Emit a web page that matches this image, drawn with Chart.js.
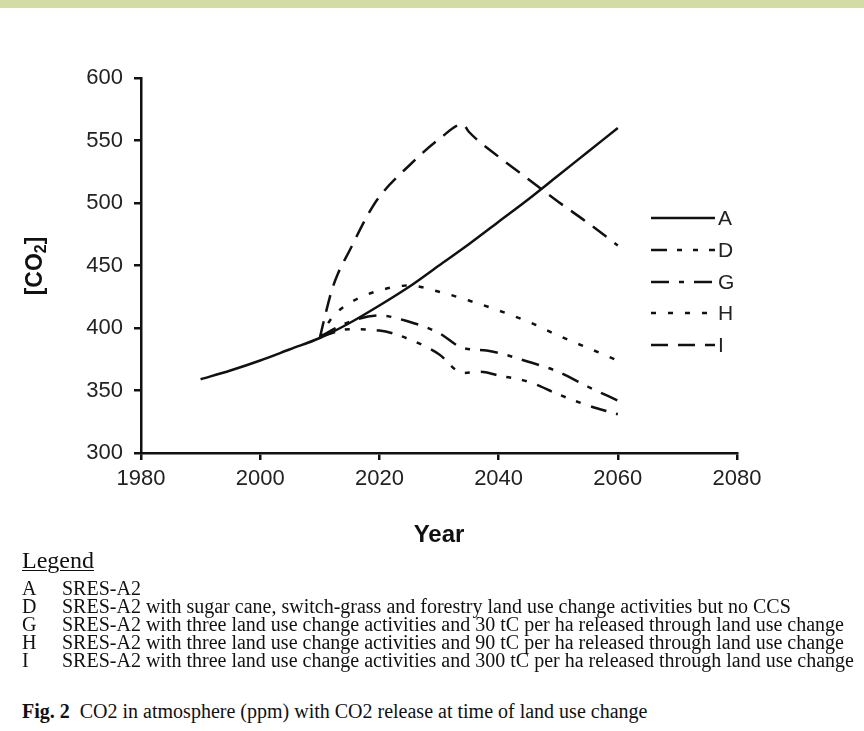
<!DOCTYPE html>
<html>
<head>
<meta charset="utf-8">
<script src="https://cdn.jsdelivr.net/npm/chart.js@4.4.1/dist/chart.umd.min.js"></script>
<style>
    body { margin: 0; width: 864px; height: 731px; background: #fff; position: relative; overflow: hidden; }
    #bandeau { position: absolute; left: 0; top: 0; width: 864px; height: 8px; background: #d3dca5; }
    #zoneGraphique { position: absolute; left: 0; top: 0; width: 864px; height: 560px; }
    .serif { font-family: "Liberation Serif", "Times New Roman", serif; color: #111; position: absolute; white-space: nowrap; }
    #titreLegende { left: 22px; top: 547px; font-size: 24px; text-decoration: underline; text-decoration-thickness: 1px; text-underline-offset: 2px; }
    .ligne { font-size: 20px; left: 22px; line-height: 20px; }
    .ligne span { position: absolute; left: 40px; }
    #caption { left: 22px; top: 700px; font-size: 20px; }
</style>
</head>
<body>
<div id="bandeau"></div>
<div id="zoneGraphique"><canvas id="co2Chart" width="864" height="560"></canvas></div>

<div id="titreLegende" class="serif">Legend</div>
<div class="serif ligne" style="top:578px">A<span>SRES-A2</span></div>
<div class="serif ligne" style="top:596px">D<span>SRES-A2 with sugar cane, switch-grass and forestry land use change activities but no CCS</span></div>
<div class="serif ligne" style="top:614px">G<span>SRES-A2 with three land use change activities and 30 tC per ha released through land use change</span></div>
<div class="serif ligne" style="top:632px">H<span>SRES-A2 with three land use change activities and 90 tC per ha released through land use change</span></div>
<div class="serif ligne" style="top:650px">I<span>SRES-A2 with three land use change activities and 300 tC per ha released through land use change</span></div>
<div id="caption" class="serif"><b>Fig. 2</b>&nbsp; CO2 in atmosphere (ppm) with CO2 release at time of land use change</div>

<script>
// Données (ppm de CO2 par année)
const yearsA = [1990, 1995, 2000, 2005, 2010, 2015, 2020, 2025, 2030, 2035, 2040, 2045, 2050, 2055, 2060];
const co2A = [359, 366, 374, 383, 392, 404, 418, 433, 450, 467, 485, 503, 522, 541, 560];

const yearsD = [2010, 2015, 2020, 2025, 2030, 2034, 2037, 2040, 2045, 2050, 2055, 2060];
const co2D = [393, 399, 398, 391, 379, 364, 365, 362, 357, 347, 338, 331];

const yearsG = [2010, 2015, 2020, 2025, 2030, 2034, 2038, 2045, 2050, 2055, 2060];
const co2G = [393, 405, 410, 405, 396, 384, 382, 373, 365, 353, 342];

const yearsH = [2010, 2012, 2015, 2020, 2025, 2030, 2035, 2040, 2045, 2050, 2055, 2060];
const co2H = [392, 408, 420, 430, 434, 429, 422, 414, 405, 394, 384, 374];

const yearsI = [2010, 2011, 2012, 2013, 2015, 2018, 2020, 2025, 2030, 2034, 2035, 2040, 2045, 2050, 2055, 2060];
const co2I = [392, 412, 430, 443, 462, 490, 505, 530, 551, 563, 557, 537, 519, 501, 484, 466];

const seriesLabels = ['A', 'D', 'G', 'H', 'I'];
const yTicks = [300, 350, 400, 450, 500, 550, 600];
const xTicks = [1980, 2000, 2020, 2040, 2060, 2080];

const INK = '#111';
const SANS = '"Liberation Sans", Arial, sans-serif';

// Transformer deux tableaux en points {x, y}
function toPoints(years, values) {
    return years.map((year, i) => ({ x: year, y: values[i] }));
}

function makeDataset(label, years, values, dash) {
    return {
        label: label,
        data: toPoints(years, values),
        borderColor: INK,
        borderWidth: 2.5,
        borderDash: dash,
        borderCapStyle: 'butt',
        pointRadius: 0,
        fill: false,
        cubicInterpolationMode: 'monotone'
    };
}

// Légende dessinée dans la zone du graphique, comme sur l'original
const legendeInterne = {
    id: 'legendeInterne',
    afterDatasetsDraw(chart) {
        const ctx = chart.ctx;
        const rows = [218, 250, 282, 313, 345];
        ctx.save();
        chart.data.datasets.forEach((ds, i) => {
            const y = rows[i];
            ctx.strokeStyle = INK;
            ctx.lineWidth = 2.5;
            ctx.lineCap = 'butt';
            ctx.setLineDash(ds.borderDash || []);
            ctx.beginPath();
            ctx.moveTo(651, y);
            ctx.lineTo(715, y);
            ctx.stroke();
            ctx.setLineDash([]);
            ctx.fillStyle = '#222';
            ctx.font = '21px ' + SANS;
            ctx.textAlign = 'left';
            ctx.textBaseline = 'middle';
            ctx.fillText(ds.label, 718, y + 1);
        });
        ctx.restore();
    }
};

// Titre de l'axe Y avec l'indice 2
const titreAxeY = {
    id: 'titreAxeY',
    afterDraw(chart) {
        const ctx = chart.ctx;
        ctx.save();
        ctx.translate(36, 266);
        ctx.rotate(-Math.PI / 2);
        ctx.fillStyle = INK;
        ctx.textBaseline = 'middle';
        ctx.textAlign = 'left';
        const big = 'bold 23px ' + SANS;
        const small = 'bold 16px ' + SANS;
        ctx.font = big;
        const w1 = ctx.measureText('[CO').width;
        ctx.font = small;
        const w2 = ctx.measureText('2').width;
        ctx.font = big;
        const w3 = ctx.measureText(']').width;
        let x = -(w1 + w2 + w3) / 2;
        ctx.fillText('[CO', x, 0);
        x += w1;
        ctx.font = small;
        ctx.fillText('2', x, 6);
        x += w2;
        ctx.font = big;
        ctx.fillText(']', x, 0);
        ctx.restore();
    }
};

document.addEventListener('DOMContentLoaded', () => {
    createCo2Chart();
});

function createCo2Chart() {
    const ctx = document.getElementById('co2Chart').getContext('2d');

    const datasets = [
        makeDataset(seriesLabels[0], yearsA, co2A, []),
        makeDataset(seriesLabels[1], yearsD, co2D, [16, 10, 5, 11, 5, 11]),
        makeDataset(seriesLabels[2], yearsG, co2G, [18, 10, 5, 10]),
        makeDataset(seriesLabels[3], yearsH, co2H, [5, 12]),
        makeDataset(seriesLabels[4], yearsI, co2I, [17, 10])
    ];

    new Chart(ctx, {
        type: 'line',
        data: { datasets: datasets },
        plugins: [legendeInterne, titreAxeY],
        options: {
            responsive: false,
            animation: false,
            layout: { padding: { left: 0, right: 127, top: 78, bottom: 0 } },
            plugins: {
                legend: { display: false },
                tooltip: { enabled: false }
            },
            scales: {
                x: {
                    type: 'linear',
                    min: 1980,
                    max: 2080,
                    afterBuildTicks: (scale) => { scale.ticks = xTicks.map(v => ({ value: v })); },
                    afterFit: (scale) => { scale.height = 107; },
                    border: { color: INK, width: 2.5 },
                    grid: { drawOnChartArea: false, drawTicks: true, tickLength: 7, color: INK, lineWidth: 2.5 },
                    ticks: {
                        color: '#222',
                        padding: 6,
                        font: { family: SANS, size: 22 },
                        callback: (v) => String(v)
                    },
                    title: {
                        display: true,
                        text: 'Year',
                        color: INK,
                        padding: { top: 0, bottom: 10 },
                        font: { family: SANS, size: 24, weight: 'bold' }
                    }
                },
                y: {
                    min: 300,
                    max: 600,
                    afterBuildTicks: (scale) => { scale.ticks = yTicks.map(v => ({ value: v })); },
                    afterFit: (scale) => { scale.width = 141; },
                    border: { color: INK, width: 2.5 },
                    grid: { drawOnChartArea: false, drawTicks: true, tickLength: 7, color: INK, lineWidth: 2.5 },
                    ticks: {
                        color: '#222',
                        padding: 11,
                        font: { family: SANS, size: 22 }
                    }
                }
            }
        }
    });
}
</script>
</body>
</html>
